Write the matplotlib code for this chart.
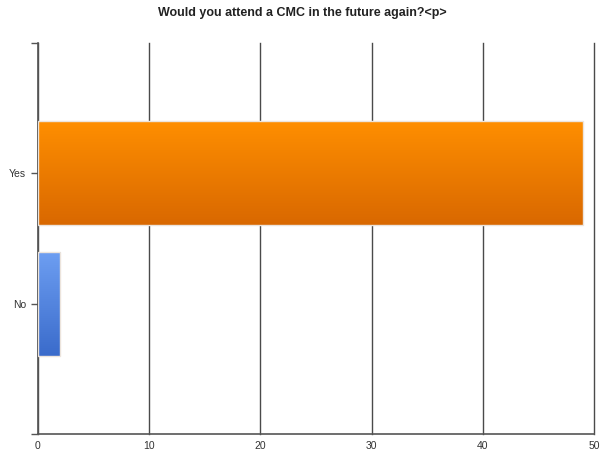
import numpy as np
import matplotlib
matplotlib.use('Agg')
import matplotlib.pyplot as plt
from matplotlib.colors import LinearSegmentedColormap

categories = ['No', 'Yes']
counts = [2, 49]
bar_colors = [('#6e9ff2', '#3a6bcb'), ('#ff8f00', '#d96800')]
x_ticks = [0, 10, 20, 30, 40, 50]

plt.rcParams['font.family'] = ['Liberation Sans', 'DejaVu Sans']

fig = plt.figure(figsize=(6.04, 4.55), dpi=100)
ax = fig.add_axes([0.0629, 0.0462, 0.9205, 0.8593])

pos = np.arange(len(categories))
bars = ax.barh(pos, counts, height=0.8, color='none', edgecolor='#ece4dc', linewidth=1.0, zorder=3)

grad = np.linspace(0, 1, 256).reshape(-1, 1)
for b, (top, bottom) in zip(bars, bar_colors):
    cmap = LinearSegmentedColormap.from_list('g', [bottom, top])
    x0, y0 = b.get_x(), b.get_y()
    im = ax.imshow(grad, cmap=cmap, aspect='auto', origin='lower',
                   extent=[x0, x0 + b.get_width(), y0, y0 + b.get_height()], zorder=2)
    im.set_clip_path(b)

ax.set_xlim(0, 50)
ax.set_ylim(-1, 2)
ax.set_xticks(x_ticks)
ax.set_xticklabels([str(t) for t in x_ticks])
ax.set_yticks([-1, 0, 1, 2])
ax.set_yticklabels(['', 'No', 'Yes', ''])
ax.grid(axis='x', color='#4a4a4a', linewidth=1.0, zorder=1)
for gl in ax.get_xgridlines():
    gl.set_clip_on(False)
for s in ['top', 'right']:
    ax.spines[s].set_visible(False)
for s in ['left', 'bottom']:
    ax.spines[s].set_color('#555555')
    ax.spines[s].set_linewidth(1.2)
ax.tick_params(axis='both', colors='#555555', labelcolor='#333333', labelsize=7.5, length=5, width=1)
ax.tick_params(axis='x', length=0, pad=5)

fig.suptitle('Would you attend a CMC in the future again?<p>', y=0.985, fontsize=9, fontweight='bold', color='#222222')

fig.savefig('out.png', dpi=100)
